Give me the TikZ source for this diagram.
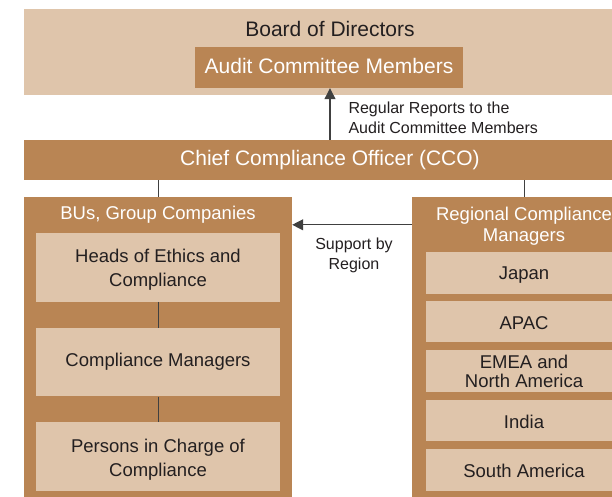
\documentclass[tikz,border=0pt]{standalone}
\usepackage{fontspec}
\setmainfont{Liberation Sans}
\usetikzlibrary{positioning,arrows.meta}

\definecolor{darkbrown}{RGB}{185,133,84}
\definecolor{lightbrown}{RGB}{223,197,171}
\definecolor{inktext}{RGB}{35,31,32}
\definecolor{linegray}{RGB}{64,64,64}

\tikzset{
  darkbox/.style={fill=darkbrown, text=white, inner sep=0pt, align=center},
  lightbox/.style={fill=lightbrown, text=inktext, inner sep=0pt, align=center},
  bigfont/.style={font=\fontsize{21}{25}\selectfont},
  boxfont/.style={font=\fontsize{18.5}{24}\selectfont},
  notefont/.style={font=\fontsize{16}{20.5}\selectfont, text=inktext},
  capline/.style={text height=#1, text depth=0pt},
  capline/.default=13.25pt,
  link/.style={draw=linegray, line width=1pt},
  arrowlink/.style={draw=linegray, line width=1.2pt, -{Triangle[length=11pt,width=11pt]}},
}

\begin{document}
\begin{tikzpicture}[x=1pt,y=-1pt]
    \useasboundingbox (0,0) rectangle (612,497);

    % Board and audit committee
    \node[lightbox, minimum width=612pt, minimum height=86pt] (board) at (330,52) {};
    \node[bigfont, text=inktext] (boardtxt) at (330,29.3) {Board of Directors};
    \node[darkbox, bigfont, text depth=3.4pt, minimum width=268pt, minimum height=41pt] (audit) at (329,67.5) {Audit Committee Members};

    % CCO
    \node[darkbox, bigfont, minimum width=612pt, minimum height=40pt] (cco) at (330,160) {Chief Compliance Officer (CCO)};
    \draw[arrowlink] (cco.north) -- (audit.south -| cco.north);
    \node[notefont, anchor=west, align=left] (reports) at (345,117.7) {Regular Reports to the\\Audit Committee Members};

    % BUs, group companies
    \node[darkbox, minimum width=268pt, minimum height=306pt] (bus) at (158,350) {};
    \node[boxfont, capline, text=white] (bustitle) at (158,213) {BUs, Group Companies};
    \node[lightbox, minimum width=244pt, minimum height=68.5pt] (heads) at (158,267.5) {};
    \node[boxfont, text=inktext, align=center] (headstxt) at (158,269.9) {Heads of Ethics and\\Compliance};
    \node[lightbox, boxfont, minimum width=244pt, minimum height=68.5pt] (cmgr) at (158,362.2) {Compliance Managers};
    \node[lightbox, minimum width=244pt, minimum height=68.5pt] (persons) at (158,456.4) {};
    \node[boxfont, text=inktext, align=center] (personstxt) at (158,459.3) {Persons in Charge of\\Compliance};
    \draw[link] (heads) -- (cmgr);
    \draw[link] (cmgr) -- (persons);
    \draw[link] (cco.south -| bus.north) -- (bus.north);

    % Regional compliance managers
    \node[darkbox, minimum width=224pt, minimum height=306pt] (region) at (524,350) {};
    \node[font=\fontsize{18.5}{20.5}\selectfont, text=white, align=center] (regiontitle) at (524,226.4) {Regional Compliance\\Managers};
    \node[lightbox, boxfont, capline=12.3pt, minimum width=196pt, minimum height=41.5pt] (japan) at (524,273) {Japan};
    \node[lightbox, boxfont, capline=16.3pt, minimum width=196pt, minimum height=41.5pt] (apac) at (524,321.7) {APAC};
    \node[lightbox, font=\fontsize{18.5}{19}\selectfont, minimum width=196pt, minimum height=41.5pt] (emea) at (524,370.9) {EMEA and\\North America};
    \node[lightbox, boxfont, capline=16.6pt, minimum width=196pt, minimum height=41.5pt] (india) at (524,420.5) {India};
    \node[lightbox, boxfont, capline=16.3pt, minimum width=196pt, minimum height=41.5pt] (samerica) at (524,469.8) {South America};
    \draw[link] (cco.south -| region.north) -- (region.north);

    % Support by region
    \draw[arrowlink] ([yshift=-28pt]region.north west) -- ([yshift=-28pt]bus.north east);
    \node[notefont, align=center] (support) at (354,255.3) {Support by\\Region};
\end{tikzpicture}
\end{document}
